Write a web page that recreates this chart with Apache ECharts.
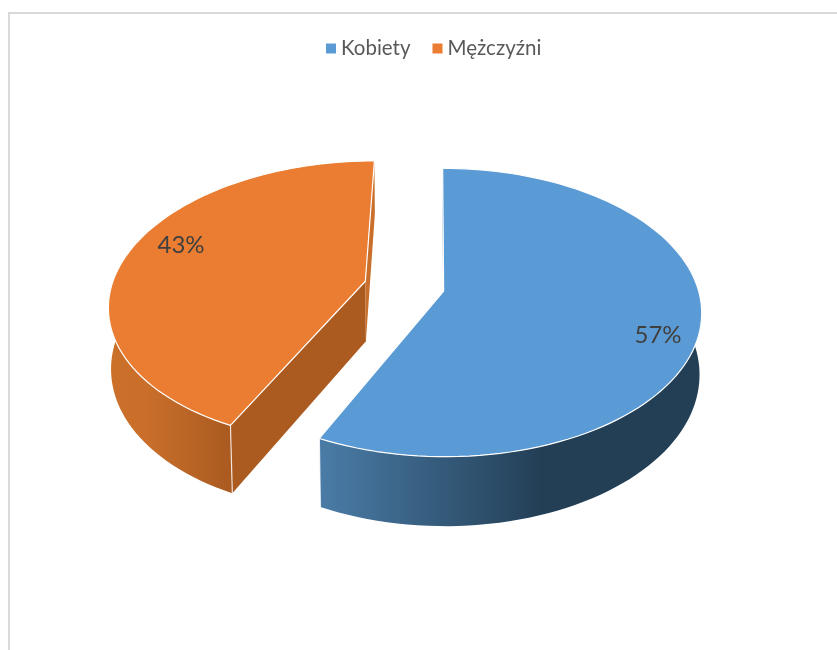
<!DOCTYPE html>
<html>
<head>
<meta charset="utf-8">
<title>Kobiety i Mężczyźni</title>
<style>
  html, body { margin: 0; padding: 0; background: #fff; }
  #chart { width: 837px; height: 650px; }
</style>
<script src="https://cdn.jsdelivr.net/npm/echarts@6/dist/echarts.min.js"></script>
</head>
<body>
<div id="chart"></div>
<script>
// dane
var categories = ['Kobiety', 'Mężczyźni'];
var values = [57, 43];
var topColors = ['#5b9bd5', '#ea7d31'];
var startFaceColors = ['#3f6f99', '#ab5a20'];
var endFaceColors = ['#3f6f99', '#c96f2b'];
var wallStops = [
  [[0, '#4a7ca7'], [0.58, '#233f56'], [1, '#233f56']],
  [[0, '#cb7029'], [0.3, '#c96f2b'], [1, '#aa5a20']]
];
// przesuniecie wycinka od srodka, w jednostkach promienia
var explodeX = [0.03, -0.28];
var explodeV = [0, 0.07];
// polozenie etykiety na ekranie
var labelPos = [[658, 335], [181, 245]];

// prosta perspektywa: X w prawo, V w glab
var X0 = 436, CY = 291, RX = 255, RY = 141, P = 0.149;
var DEPTH = 61, Q = 0.008;
var total = values.reduce(function (a, b) { return a + b; }, 0);

function project(x, v, bottom) {
  var w = 1 + P * v + (bottom ? Q : 0);
  return [X0 + RX * x / w, CY + (-RY * v + (bottom ? DEPTH : 0)) / w];
}

function rimPoint(i, deg, bottom) {
  var a = deg * Math.PI / 180;
  return project(explodeX[i] + Math.sin(a), explodeV[i] + Math.cos(a), bottom);
}

function arcPoints(i, from, to, bottom) {
  var pts = [];
  var n = Math.max(2, Math.ceil((to - from) / 2));
  for (var k = 0; k <= n; k++) {
    pts.push(rimPoint(i, from + (to - from) * k / n, bottom));
  }
  return pts;
}

function area(pts) {
  var s = 0;
  for (var k = 0; k < pts.length; k++) {
    var p = pts[k], q = pts[(k + 1) % pts.length];
    s += p[0] * q[1] - q[0] * p[1];
  }
  return s / 2;
}

function startAngle(i) {
  var sum = 0;
  for (var k = 0; k < i; k++) sum += values[k];
  return sum / total * 360;
}

function renderSlice(i, api) {
  var value = api.value(0);
  var from = startAngle(i);
  var to = from + value / total * 360;
  var apexTop = project(explodeX[i], explodeV[i], false);
  var apexBottom = project(explodeX[i], explodeV[i], true);
  var children = [];

  // sciany promieniowe, tylne pomijamy
  var faceStart = [apexTop, rimPoint(i, from, false), rimPoint(i, from, true), apexBottom];
  var faceEnd = [apexTop, rimPoint(i, to, false), rimPoint(i, to, true), apexBottom];
  if (area(faceStart) < 0) {
    children.push({
      type: 'polygon',
      shape: { points: faceStart },
      style: { fill: startFaceColors[i] }
    });
  }
  if (area(faceEnd) > 0) {
    children.push({
      type: 'polygon',
      shape: { points: faceEnd },
      style: { fill: endFaceColors[i] }
    });
  }

  // sciana zewnetrzna, tylko przednia czesc luku
  var wallFrom = Math.max(from, 60);
  var wallTo = Math.min(to, 300);
  var wall = arcPoints(i, wallFrom, wallTo, false)
    .concat(arcPoints(i, wallFrom, wallTo, true).reverse());
  children.push({
    type: 'polygon',
    shape: { points: wall },
    style: {
      fill: new echarts.graphic.LinearGradient(0, 0, 1, 0, wallStops[i].map(function (s) {
        return { offset: s[0], color: s[1] };
      }))
    }
  });

  // krawedz pionowa
  var edgeTop = rimPoint(i, i === 0 ? to : from, false);
  var edgeBottom = rimPoint(i, i === 0 ? to : from, true);
  children.push({
    type: 'line',
    shape: { x1: edgeTop[0], y1: edgeTop[1], x2: edgeBottom[0], y2: edgeBottom[1] },
    style: { stroke: '#fff', opacity: 0.8, lineWidth: 1.2 }
  });

  // wierzch
  children.push({
    type: 'polygon',
    shape: { points: [apexTop].concat(arcPoints(i, from, to, false)) },
    style: { fill: topColors[i], stroke: '#fff', lineWidth: 1.2, lineJoin: 'round' }
  });

  children.push({
    type: 'text',
    style: {
      text: Math.round(value / total * 100) + '%',
      x: labelPos[i][0],
      y: labelPos[i][1],
      align: 'center',
      verticalAlign: 'middle',
      fill: '#404040',
      font: '24px Lato, "Noto Sans", sans-serif'
    }
  });

  return { type: 'group', children: children };
}

var chart = echarts.init(document.getElementById('chart'), null, { renderer: 'canvas' });

var option = {
  animation: false,
  backgroundColor: '#fff',
  color: topColors,
  legend: {
    data: categories,
    left: 321,
    top: 33,
    icon: 'rect',
    itemWidth: 10,
    itemHeight: 10,
    itemGap: 22,
    selectedMode: false,
    textStyle: {
      color: '#595959',
      fontSize: 20.5,
      fontFamily: 'Lato, "Noto Sans", sans-serif'
    }
  },
  graphic: [
    {
      type: 'polyline',
      silent: true,
      shape: { points: [[9, 650], [9, 13], [837, 13]] },
      style: { fill: 'none', stroke: '#d9d9d9', lineWidth: 2 }
    }
  ],
  series: categories.map(function (name, i) {
    return {
      type: 'custom',
      name: name,
      coordinateSystem: 'none',
      silent: true,
      z: i === 0 ? 2 : 3,
      data: [[values[i]]],
      renderItem: function (params, api) {
        return renderSlice(i, api);
      }
    };
  })
};

chart.setOption(option);
</script>
</body>
</html>
